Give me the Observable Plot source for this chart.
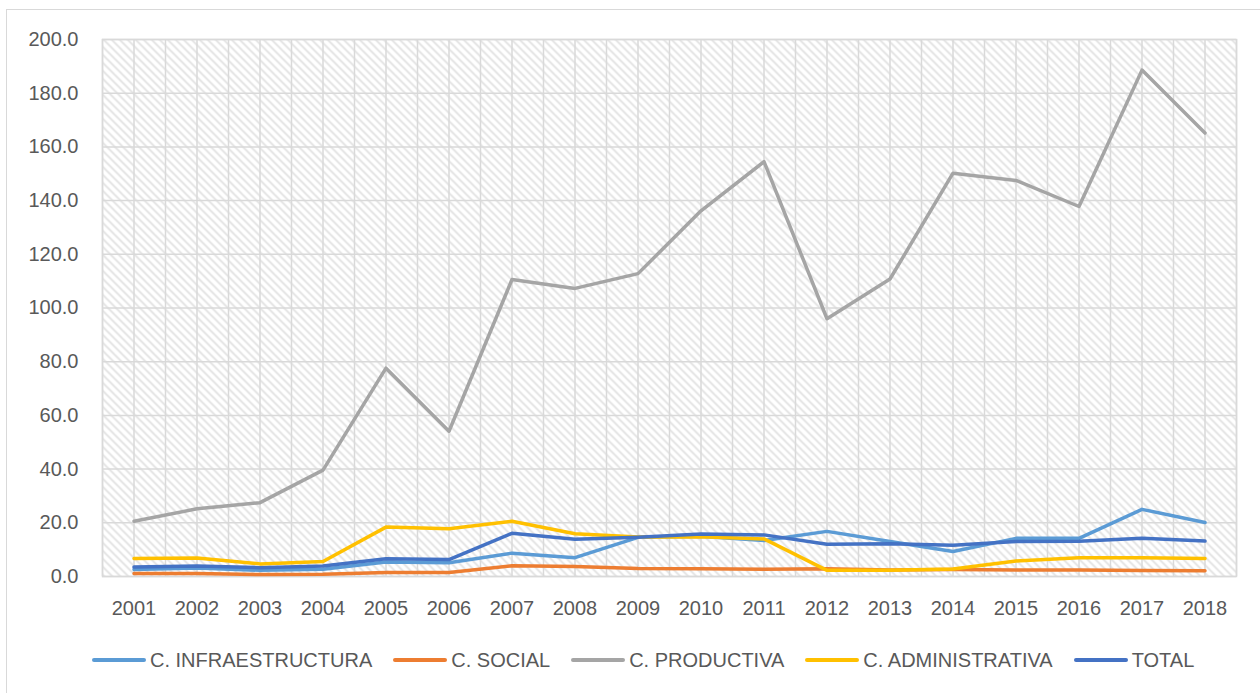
<!DOCTYPE html>
<html>
<head>
<meta charset="utf-8">
<script src="https://cdn.jsdelivr.net/npm/d3@7"></script>
<script src="https://cdn.jsdelivr.net/npm/@observablehq/plot@0.6"></script>
<style>
  html, body { margin: 0; padding: 0; background: #fff; overflow: hidden; }
  body { width: 1260px; height: 693px; position: relative; font-family: "Liberation Sans", Arial, sans-serif; }
  #border { position: absolute; left: 6px; top: 9px; width: 1300px; height: 800px; border: 1.5px solid #d9d9d9; box-sizing: border-box; }
  #chart { position: absolute; left: 0; top: 0; }
  #legend { position: absolute; left: 92px; top: 649px; height: 22px; display: flex; align-items: center; font-size: 20px; color: #595959; white-space: nowrap; }
  .item { display: flex; align-items: center; margin-right: 21px; }
  .sw { width: 54px; height: 4px; border-radius: 2px; margin-right: 4px; }
</style>
</head>
<body>
<div id="border"></div>
<div id="chart"></div>
<div id="legend"></div>
<script>
const years = [2001,2002,2003,2004,2005,2006,2007,2008,2009,2010,2011,2012,2013,2014,2015,2016,2017,2018];
const seriesNames = ["C. INFRAESTRUCTURA","C. SOCIAL","C. PRODUCTIVA","C. ADMINISTRATIVA","TOTAL"];
const seriesColors = ["#5B9BD5","#ED7D31","#A5A5A5","#FFC000","#4472C4"];
const infraestructura = [2.6,3.2,2.3,2.7,5.4,5.1,8.7,7.0,14.6,15.0,13.4,16.8,13.0,9.3,14.2,14.2,25.0,20.1];
const social = [1.1,1.1,0.7,0.8,1.5,1.5,4.0,3.7,3.0,2.9,2.7,2.9,2.4,2.6,2.4,2.4,2.2,2.1];
const productiva = [20.6,25.2,27.5,39.6,77.6,54.1,110.6,107.3,112.8,136.2,154.5,96.0,110.8,150.2,147.5,137.8,188.6,165.2];
const administrativa = [6.7,6.9,4.7,5.6,18.4,17.8,20.6,15.9,14.7,14.8,14.0,2.3,2.3,2.8,5.8,7.0,7.0,6.7];
const total = [3.5,3.9,3.3,3.9,6.6,6.3,16.1,13.9,14.6,15.8,15.5,12.0,12.2,11.6,13.0,13.1,14.2,13.2];
const yTicks = [0,20,40,60,80,100,120,140,160,180,200];

const seriesValues = [infraestructura, social, productiva, administrativa, total];
const rows = [];
seriesNames.forEach((name, i) => years.forEach((yr, j) => rows.push({series: name, year: yr, value: seriesValues[i][j]})));
const gridX = years.flatMap(y => [y - 0.5, y]).concat([years[years.length - 1] + 0.5]);

const grid = "#d9d9d9";
const chart = Plot.plot({
  width: 1260,
  height: 630,
  marginTop: 39,
  marginBottom: 54,
  marginLeft: 102,
  marginRight: 24,
  style: {fontFamily: '"Liberation Sans", Arial, sans-serif', fontSize: "20px", color: "#595959", background: "transparent"},
  x: {domain: [years[0] - 0.5, years[years.length - 1] + 0.5]},
  y: {domain: [0, 200]},
  color: {domain: seriesNames, range: seriesColors},
  marks: [
    Plot.frame({fill: "url(#hatch)", stroke: "none"}),
    Plot.ruleX(gridX, {stroke: grid, strokeWidth: 1.5}),
    Plot.ruleY(yTicks, {stroke: grid, strokeWidth: 1.5}),
    Plot.frame({stroke: grid, strokeWidth: 1.5}),
    Plot.axisY({ticks: yTicks, tickFormat: d3.format(".1f"), tickSize: 0, tickPadding: 24, fill: "#595959", fontSize: 20, label: null}),
    Plot.axisX({ticks: years, tickFormat: d => String(d), tickSize: 0, tickPadding: 24, fill: "#595959", fontSize: 20, label: null}),
    Plot.line(rows, {x: "year", y: "value", z: "series", stroke: "series", strokeWidth: 3.5, strokeLinecap: "round", strokeLinejoin: "round"})
  ]
});
const svg = d3.select(chart);
const defs = svg.insert("defs", ":first-child");
const pat = defs.append("pattern").attr("id", "hatch").attr("patternUnits", "userSpaceOnUse").attr("width", 8).attr("height", 8);
pat.append("rect").attr("width", 8).attr("height", 8).attr("fill", "#ffffff");
pat.append("path").attr("d", "M-2,-2L10,10M-2,6L2,10M6,-2L10,2").attr("stroke", "#e0e0e0").attr("stroke-width", 1.6);
document.getElementById("chart").appendChild(chart);

const legend = document.getElementById("legend");
seriesNames.forEach((name, i) => {
  const it = document.createElement("div");
  it.className = "item";
  const sw = document.createElement("div");
  sw.className = "sw";
  sw.style.background = seriesColors[i];
  const tx = document.createElement("span");
  tx.textContent = name;
  it.appendChild(sw);
  it.appendChild(tx);
  legend.appendChild(it);
});
</script>
</body>
</html>
